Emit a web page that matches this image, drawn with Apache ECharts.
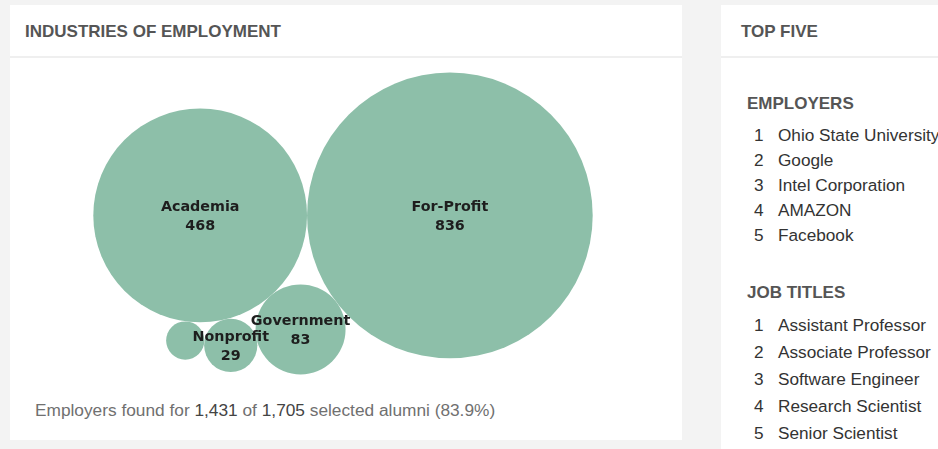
<!DOCTYPE html>
<html>
<head>
<meta charset="utf-8">
<script src="https://cdn.jsdelivr.net/npm/echarts@6/dist/echarts.min.js"></script>
<style>
  html, body { margin:0; padding:0; }
  body { width:938px; height:449px; overflow:hidden; background:#f3f3f3;
         font-family:'Liberation Sans', Arial, Helvetica, sans-serif; position:relative; }
  .panel { position:absolute; background:#fff; }
  #left { left:10px; top:5px; width:672px; height:435px; }
  #right { left:721px; top:5px; width:260px; height:444px; }
  .head { position:absolute; left:0; top:0; right:0; height:51px; border-bottom:2px solid #efefef; }
  .htxt { position:absolute; top:17px; line-height:20px; font-weight:bold; font-size:17px; color:#555; white-space:nowrap; }
  .sub { position:absolute; left:26px; line-height:20px; font-weight:bold; font-size:17px; color:#555; white-space:nowrap; }
  .row { position:absolute; left:0; white-space:nowrap; font-size:17.2px; color:#333; }
  .row .n { position:absolute; left:33px; }
  .row .t { position:absolute; left:57px; }
  #chart { position:absolute; left:0; top:53px; width:666px; height:331px; }
  #foot { position:absolute; left:25px; top:395px; line-height:20px; font-size:17.3px; color:#707070; white-space:nowrap; }
  #foot .num { color:#444; }
</style>
</head>
<body>
<div id="left" class="panel">
  <div class="head"><div class="htxt" style="left:15px">INDUSTRIES OF EMPLOYMENT</div></div>
  <div id="chart"></div>
  <div id="foot"></div>
</div>
<div id="right" class="panel">
  <div class="head"><div class="htxt" style="left:20px">TOP FIVE</div></div>
  <div class="sub" style="top:89px">EMPLOYERS</div>
  <div id="emp"></div>
  <div class="sub" style="top:278px">JOB TITLES</div>
  <div id="job"></div>
</div>
<script>
// ---- data ----
const categories = ['Academia', 'For-Profit', 'Government', 'Nonprofit', 'Other'];
const counts = [468, 836, 83, 29, 15];
const employers = ['Ohio State University', 'Google', 'Intel Corporation', 'AMAZON', 'Facebook'];
const jobTitles = ['Assistant Professor', 'Associate Professor', 'Software Engineer', 'Research Scientist', 'Senior Scientist'];
const foundAlumni = 1431;
const selectedAlumni = 1705;

// ---- side lists ----
function fillList(id, items, top, step) {
  const el = document.getElementById(id);
  items.forEach((txt, i) => {
    const r = document.createElement('div');
    r.className = 'row';
    r.style.top = (top + i * step) + 'px';
    r.style.lineHeight = step + 'px';
    r.innerHTML = '<span class="n">' + (i + 1) + '</span><span class="t"></span>';
    r.querySelector('.t').textContent = txt;
    el.appendChild(r);
  });
}
fillList('emp', employers, 117.5, 25);
fillList('job', jobTitles, 306.5, 27);

const fmt = v => v.toLocaleString('en-US');
document.getElementById('foot').innerHTML =
  'Employers found for <span class="num">' + fmt(foundAlumni) + '</span> of <span class="num">' +
  fmt(selectedAlumni) + '</span> selected alumni (' + (foundAlumni / selectedAlumni * 100).toFixed(1) + '%)';

// ---- circle packing (front-chain sibling packing) ----
function place(a, b, c) {
  const dx = b.x - a.x, dy = b.y - a.y, d2 = dx * dx + dy * dy;
  const ra = a.r + c.r, rb = b.r + c.r;
  const t = 0.5 + (ra * ra - rb * rb) / (2 * d2);
  const h = Math.sqrt(Math.max(0, ra * ra / d2 - t * t));
  c.x = a.x + t * dx + h * dy;
  c.y = a.y + t * dy - h * dx;
}
function intersects(a, b) {
  const dx = b.x - a.x, dy = b.y - a.y, dr = a.r + b.r;
  return 0.999 * dr * dr > dx * dx + dy * dy;
}
function insert(a, b) { const c = a.next; a.next = b; b.prev = a; b.next = c; c.prev = b; }
function splice(a, b) { a.next = b; b.prev = a; }
function packSiblings(nodes) {
  nodes.forEach(n => { n.next = n; n.prev = n; });
  const n = nodes.length;
  let a = nodes[0]; a.x = -a.r; a.y = 0;
  if (n > 1) {
    let b = nodes[1]; b.x = b.r; b.y = 0;
    if (n > 2) {
      let c = nodes[2];
      place(a, b, c);
      insert(a, c); a.prev = c; insert(c, b);
      b = a.next;
      for (let i = 3; i < n; i++) {
        c = nodes[i];
        place(a, b, c);
        let isect = 0, s1 = 1, s2 = 1, j, k;
        for (j = b.next; j !== b; j = j.next, s1++) {
          if (intersects(j, c)) { isect = 1; break; }
        }
        if (isect) {
          for (k = a.prev; k !== j.prev; k = k.prev, s2++) {
            if (intersects(k, c)) break;
          }
          if (s1 < s2 || (s1 === s2 && b.r < a.r)) { b = j; splice(a, b); }
          else { a = k; splice(a, b); }
          i--;
        } else {
          insert(a, c); b = c;
        }
      }
    }
  }
  let x0 = Infinity, x1 = -Infinity, y0 = Infinity, y1 = -Infinity;
  nodes.forEach(c => { x0 = Math.min(x0, c.x - c.r); x1 = Math.max(x1, c.x + c.r);
                       y0 = Math.min(y0, c.y - c.r); y1 = Math.max(y1, c.y + c.r); });
  const cx = (x0 + x1) / 2, cy = (y0 + y1) / 2;
  let cr = 0;
  nodes.forEach(c => { c.x -= cx; c.y -= cy; cr = Math.max(cr, c.r + Math.hypot(c.x, c.y)); });
  return cr;
}

const nodes = counts.map((v, i) => ({ name: categories[i], value: v, r: Math.sqrt(v) }));
const enclose = packSiblings(nodes);
const packRadius = 250;               // pack diameter 500 px
const k = packRadius / enclose;

const items = nodes.map(nd => ({
  name: nd.name,
  value: [nd.x * k, nd.y * k, nd.value, 2 * nd.r * k],
  label: { show: nd.r * k >= 22 }
}));

const chart = echarts.init(document.getElementById('chart'), null, { renderer: 'canvas' });
chart.setOption({
  animation: false,
  grid: { left: 0, top: 0, width: 666, height: 331 },
  xAxis: { type: 'value', min: -333, max: 333, show: false },
  yAxis: { type: 'value', min: -165.5, max: 165.5, show: false },
  tooltip: { show: false },
  series: [{
    type: 'scatter',
    clip: false,
    silent: true,
    data: items,
    symbol: 'circle',
    symbolSize: val => val[3],
    itemStyle: { color: '#8dbfa9', opacity: 1 },
    label: {
      show: true,
      position: 'inside',
      offset: [0, 1.5],
      formatter: p => p.name + '\n' + p.value[2],
      fontFamily: 'DejaVu Sans',
      fontWeight: 'bold',
      fontSize: 14.3,
      lineHeight: 19,
      color: '#1e1e1e'
    },
    emphasis: { disabled: true }
  }]
});
</script>
</body>
</html>
